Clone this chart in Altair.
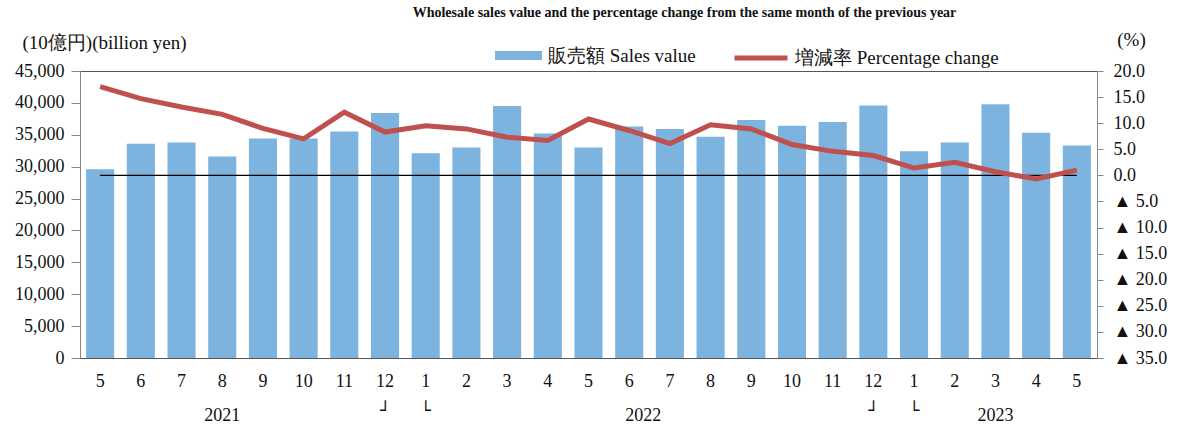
import altair as alt
import pandas as pd

periods = ["2021-5", "2021-6", "2021-7", "2021-8", "2021-9", "2021-10", "2021-11", "2021-12",
           "2022-1", "2022-2", "2022-3", "2022-4", "2022-5", "2022-6", "2022-7", "2022-8",
           "2022-9", "2022-10", "2022-11", "2022-12", "2023-1", "2023-2", "2023-3", "2023-4", "2023-5"]
sales = [29600, 33600, 33800, 31600, 34400, 34400, 35500, 38400, 32100, 33000, 39500, 35200, 33000,
         36300, 35900, 34700, 37300, 36400, 37000, 39600, 32400, 33800, 39800, 35300, 33300]
pct = [17.0, 14.7, 13.1, 11.7, 9.0, 7.0, 12.1, 8.3, 9.5, 8.9, 7.3, 6.7, 10.8, 8.6, 6.1, 9.7,
       8.9, 5.9, 4.6, 3.8, 1.4, 2.5, 0.7, -0.7, 1.0]

year_text = ["2021", "2023"]
year_at = ["2021-8", "2023-3"]
mid_year_text = ["2022"]
mid_year_at = ["2022-6"]
mark_text = ["┘", "└", "┘", "└"]
mark_at = ["2021-12", "2022-1", "2022-12", "2023-1"]

SALES_NAME = "販売額 Sales value"
PCT_NAME = "増減率 Percentage change"
SUBTITLE = "Wholesale sales value and the percentage change from the same month of the previous year"

BLUE = "#7DB3DF"
RED = "#C0504D"
SERIF = "Liberation Serif"

df = pd.DataFrame({"period": periods, "sales": sales, "pct": pct,
                   "s_series": SALES_NAME, "p_series": PCT_NAME})

xscale = alt.Scale(domain=periods, paddingInner=0.31, paddingOuter=0.15)
xenc = alt.X("period:N", scale=xscale,
             axis=alt.Axis(title=None, labelExpr="split(datum.value, '-')[1]", labelAngle=0,
                           labelFont=SERIF, labelFontSize=18, labelColor="#111",
                           ticks=False, labelPadding=14, domainColor="#555"))

bars = alt.Chart(df).mark_bar().encode(
    x=xenc,
    y=alt.Y("sales:Q", scale=alt.Scale(domain=[0, 45000]),
            axis=alt.Axis(values=list(range(0, 45001, 5000)), format=",.0f", grid=False,
                          labelOverlap=False,
                          title="(10億円)(billion yen)", titleAngle=0, titleX=-58, titleY=-29,
                          titleAlign="left", titleBaseline="middle", titleFont=SERIF,
                          titleFontSize=19, titleFontWeight="normal", titleColor="#111",
                          labelFont=SERIF, labelFontSize=18, labelColor="#111",
                          tickSize=9, tickColor="#888", domainColor="#888", labelPadding=7)),
    color=alt.Color("s_series:N", scale=alt.Scale(range=[BLUE]),
                    legend=alt.Legend(orient="none", legendX=415, legendY=-39, title=None,
                                      symbolType="M-1,-0.19H1V0.19H-1Z", symbolSize=2209,
                                      symbolStrokeWidth=0, labelFont=SERIF, labelFontSize=19,
                                      labelColor="#111", labelOffset=6, padding=0,
                                      labelLimit=400)),
)

pct_axis = alt.Axis(orient="right", values=list(range(-35, 21, 5)), grid=False,
                    labelOverlap=False,
                    labelExpr="datum.value < 0 ? '▲ ' + format(-datum.value, '.1f') : format(datum.value, '.1f')",
                    title="(%)", titleAngle=0, titleX=34, titleY=-32,
                    titleAlign="center", titleBaseline="middle", titleFont=SERIF,
                    titleFontSize=19, titleFontWeight="normal", titleColor="#111",
                    labelFont=SERIF, labelFontSize=18, labelColor="#111",
                    tickSize=6, tickColor="#888", domainColor="#888", labelPadding=10)
pct_scale = alt.Scale(domain=[-35, 20])

zero = alt.Chart(pd.DataFrame({"start": [periods[0]], "end": [periods[-1]], "z": [0]})).mark_rule(
    color="black", strokeWidth=1.3).encode(
    x=alt.X("start:N", scale=xscale),
    x2="end:N",
    y=alt.Y("z:Q", scale=pct_scale, axis=pct_axis),
)

line = alt.Chart(df).mark_line(strokeWidth=5).encode(
    x=xenc,
    y=alt.Y("pct:Q", scale=pct_scale, axis=pct_axis),
    stroke=alt.Stroke("p_series:N", scale=alt.Scale(range=[RED]),
                      legend=alt.Legend(orient="none", legendX=652, legendY=-42, title=None,
                                        symbolType="stroke", symbolSize=2809,
                                        symbolStrokeWidth=5, labelFont=SERIF, labelFontSize=19,
                                        labelColor="#111", labelOffset=5, padding=0,
                                        labelLimit=400)),
)

years = alt.Chart(pd.DataFrame({"t": year_text, "at": year_at})).mark_text(
    font=SERIF, fontSize=18, color="#111", baseline="middle").encode(
    x=alt.X("at:N", scale=xscale), y=alt.value(345), text="t:N")
mid_years = alt.Chart(pd.DataFrame({"t": mid_year_text, "at": mid_year_at})).mark_text(
    font=SERIF, fontSize=18, color="#111", baseline="middle").encode(
    x=alt.X("at:N", scale=xscale, bandPosition=1), y=alt.value(345), text="t:N")
marks = alt.Chart(pd.DataFrame({"t": mark_text, "at": mark_at})).mark_text(
    font="DejaVu Sans", fontSize=17, color="#111", baseline="middle").encode(
    x=alt.X("at:N", scale=xscale), y=alt.value(340), text="t:N")

chart = alt.layer(bars, alt.layer(zero, line), years, mid_years, marks).resolve_scale(
    y="independent", color="independent", stroke="independent"
).properties(
    width=1017, height=287,
    autosize=alt.AutoSizeParams(type="none"),
    padding={"left": 80, "top": 71, "right": 82, "bottom": 71},
    title=alt.TitleParams(SUBTITLE, font=SERIF, fontSize=14, fontWeight="bold", color="#111",
                          anchor="middle", dx=96, offset=9),
).configure_view(stroke="#555", strokeWidth=1)

chart.save("out.html", embed_options={"renderer": "svg", "actions": False})
